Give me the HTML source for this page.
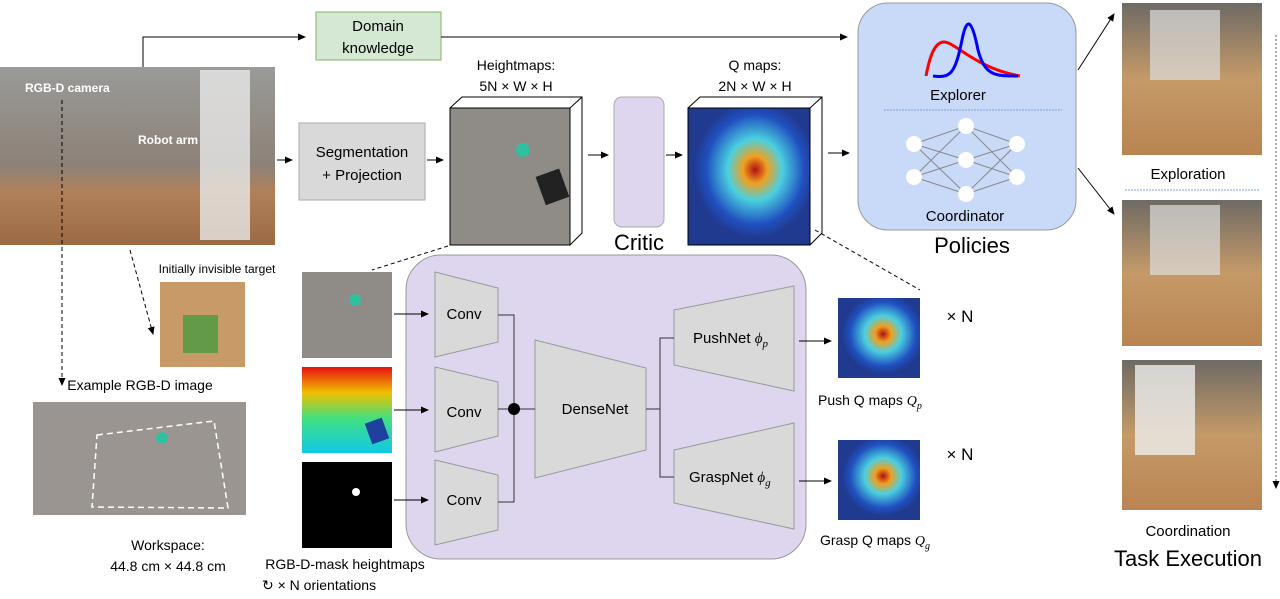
<!DOCTYPE html>
<html><head><meta charset="utf-8"><style>
body{margin:0;background:#fff;width:1280px;height:594px;overflow:hidden}
svg{font-family:"Liberation Sans",sans-serif}
</style></head><body>
<svg width="1280" height="594" viewBox="0 0 1280 594">
<defs>
<marker id="a" markerWidth="8" markerHeight="8" refX="7" refY="4" orient="auto" markerUnits="userSpaceOnUse"><path d="M0,0.5 L8,4 L0,7.5z" fill="#000"/></marker>
<radialGradient id="q" cx="0.55" cy="0.45" r="0.5"><stop offset="0" stop-color="#b01010"/><stop offset="0.2" stop-color="#f0a020"/><stop offset="0.45" stop-color="#4ad0e0"/><stop offset="0.8" stop-color="#2050c0"/><stop offset="1" stop-color="#203a90"/></radialGradient>
<linearGradient id="wood" x1="0" y1="0" x2="0" y2="1"><stop offset="0" stop-color="#9a9a98"/><stop offset="0.55" stop-color="#8c8278"/><stop offset="0.7" stop-color="#b0815a"/><stop offset="1" stop-color="#9b6a45"/></linearGradient>
<linearGradient id="rob" x1="0" y1="0" x2="0" y2="1"><stop offset="0" stop-color="#6e6a64"/><stop offset="0.5" stop-color="#c59a68"/><stop offset="1" stop-color="#b98452"/></linearGradient>
<linearGradient id="dep" x1="0" y1="0" x2="0" y2="1"><stop offset="0" stop-color="#e81010"/><stop offset="0.3" stop-color="#f0c000"/><stop offset="0.6" stop-color="#40e080"/><stop offset="1" stop-color="#10c8e8"/></linearGradient>
</defs>

<rect x="0" y="67" width="275" height="178" fill="url(#wood)"/>
<rect x="200" y="70" width="50" height="170" fill="#e8e8e8" opacity="0.8"/>
<text x="25" y="92" font-size="12" font-weight="bold" fill="#fff">RGB-D camera</text>
<text x="138" y="144" font-size="12" font-weight="bold" fill="#fff">Robot arm</text>

<path d="M143,67 V37 H305" fill="none" stroke="#000" marker-end="url(#a)"/>
<rect x="316" y="12" width="125" height="48" fill="#d5e8d4" stroke="#82b366"/>
<text x="378" y="31" font-size="15" text-anchor="middle">Domain</text>
<text x="378" y="53" font-size="15" text-anchor="middle">knowledge</text>
<path d="M441,37 H847" fill="none" stroke="#000" marker-end="url(#a)"/>

<path d="M277,160 H292" stroke="#000" marker-end="url(#a)"/>
<rect x="299" y="123" width="126" height="77" fill="#d9d9d9" stroke="#aaa"/>
<text x="362" y="157" font-size="15" text-anchor="middle">Segmentation</text>
<text x="362" y="180" font-size="15" text-anchor="middle">+ Projection</text>
<path d="M427,160 H443" stroke="#000" marker-end="url(#a)"/>

<text x="516" y="70" font-size="14" text-anchor="middle">Heightmaps:</text>
<text x="516" y="91" font-size="14" text-anchor="middle">5N × W × H</text>
<path d="M450,108 L462,97 H582 V233 L570,245 Z" fill="#fff" stroke="#000"/>
<path d="M570,108 L582,97 M570,108 V245" stroke="#000"/>
<rect x="450" y="108" width="120" height="137" fill="#8f8b86" stroke="#000"/>
<circle cx="523" cy="150" r="7" fill="#30c0a0"/>
<rect x="540" y="172" width="25" height="30" fill="#222" transform="rotate(-20 552 187)"/>
<path d="M588,155 H608" stroke="#000" marker-end="url(#a)"/>

<rect x="614" y="97" width="50" height="130" rx="8" fill="#ddd6ee" stroke="#aaa"/>
<text x="639" y="250" font-size="22" text-anchor="middle">Critic</text>
<path d="M666,155 H682" stroke="#000" marker-end="url(#a)"/>

<text x="755" y="70" font-size="14" text-anchor="middle">Q maps:</text>
<text x="755" y="91" font-size="14" text-anchor="middle">2N × W × H</text>
<path d="M688,108 L700,97 H822 V233 L810,245 Z" fill="#fff" stroke="#000"/>
<path d="M810,108 L822,97" stroke="#000"/>
<rect x="688" y="108" width="122" height="137" fill="url(#q)" stroke="#000"/>
<path d="M828,153 H849" stroke="#000" marker-end="url(#a)"/>

<rect x="858" y="3" width="218" height="227" rx="30" fill="#c9daf8" stroke="#999"/>
<path d="M926,76 C930,55 935,42 944,42 C955,42 975,68 1020,76" fill="none" stroke="red" stroke-width="3"/>
<path d="M933,76 C950,78 955,75 962,40 C967,15 972,20 978,50 C985,76 995,76 1018,76" fill="none" stroke="blue" stroke-width="3"/>
<text x="958" y="100" font-size="15" text-anchor="middle">Explorer</text>
<line x1="884" y1="110" x2="1062" y2="110" stroke="#7aa0d8" stroke-dasharray="2,1"/>
<g stroke="#888" stroke-width="1">
<path d="M914,144 L966,126 M914,144 L966,160 M914,144 L966,194 M914,177 L966,126 M914,177 L966,160 M914,177 L966,194 M966,126 L1017,144 M966,126 L1017,177 M966,160 L1017,144 M966,160 L1017,177 M966,194 L1017,144 M966,194 L1017,177"/>
</g>
<g fill="#fff"><circle cx="914" cy="144" r="8"/><circle cx="914" cy="177" r="8"/><circle cx="966" cy="126" r="8"/><circle cx="966" cy="160" r="8"/><circle cx="966" cy="194" r="8"/><circle cx="1017" cy="144" r="8"/><circle cx="1017" cy="177" r="8"/></g>
<text x="965" y="221" font-size="15" text-anchor="middle">Coordinator</text>
<text x="972" y="253" font-size="22" text-anchor="middle">Policies</text>

<path d="M1078,70 L1114,14" stroke="#000" marker-end="url(#a)"/>
<path d="M1078,168 L1114,214" stroke="#000" marker-end="url(#a)"/>
<rect x="1122" y="3" width="140" height="152" fill="url(#rob)"/>
<rect x="1150" y="10" width="70" height="70" fill="#ddd" opacity="0.7"/>
<text x="1188" y="179" font-size="15" text-anchor="middle">Exploration</text>
<line x1="1125" y1="190" x2="1260" y2="190" stroke="#7aa0d8" stroke-dasharray="2,1"/>
<rect x="1122" y="200" width="140" height="146" fill="url(#rob)"/>
<rect x="1150" y="205" width="70" height="70" fill="#ddd" opacity="0.7"/>
<rect x="1122" y="360" width="140" height="150" fill="url(#rob)"/>
<rect x="1135" y="365" width="60" height="90" fill="#eee" opacity="0.8"/>
<line x1="1276" y1="35" x2="1276" y2="488" stroke="#555" stroke-dasharray="2,2" marker-end="url(#a)"/>
<text x="1188" y="536" font-size="15" text-anchor="middle">Coordination</text>
<text x="1188" y="566" font-size="22" text-anchor="middle">Task Execution</text>

<text x="217" y="273" font-size="12" text-anchor="middle">Initially invisible target</text>
<rect x="160" y="282" width="85" height="85" fill="#c89a68"/>
<rect x="183" y="315" width="35" height="38" fill="#4a9a40" opacity="0.8"/>
<path d="M130,250 L153,334" stroke="#000" stroke-dasharray="4,3" marker-end="url(#a)"/>
<path d="M62,100 V385" stroke="#000" stroke-dasharray="4,3" marker-end="url(#a)"/>
<text x="140" y="390" font-size="14" text-anchor="middle">Example RGB-D image</text>
<rect x="33" y="402" width="213" height="113" fill="#9a9590"/>
<path d="M97,435 L214,421 L228,508 L92,507 Z" fill="none" stroke="#fff" stroke-width="1.5" stroke-dasharray="6,4"/>
<circle cx="162" cy="438" r="6" fill="#30c0a0"/>
<text x="168" y="550" font-size="14" text-anchor="middle">Workspace:</text>
<text x="168" y="571" font-size="14" text-anchor="middle">44.8 cm × 44.8 cm</text>

<path d="M448,246 L372,270" stroke="#000" stroke-dasharray="4,3"/>
<path d="M815,230 L920,290" stroke="#000" stroke-dasharray="4,3"/>

<rect x="302" y="272" width="90" height="86" fill="#8f8b86"/>
<circle cx="355" cy="300" r="6" fill="#30c0a0"/>
<rect x="302" y="367" width="90" height="86" fill="url(#dep)"/>
<rect x="368" y="420" width="18" height="22" fill="#2040a0" transform="rotate(-20 377 431)"/>
<rect x="302" y="462" width="90" height="86" fill="#000"/>
<circle cx="356" cy="492" r="4" fill="#fff"/>
<text x="345" y="569" font-size="14" text-anchor="middle">RGB-D-mask heightmaps</text>
<text x="262" y="590" font-size="14">↻ × N orientations</text>

<rect x="406" y="255" width="400" height="304" rx="35" fill="#ddd6ee" stroke="#999"/>
<path d="M394,314 H428" stroke="#000" marker-end="url(#a)"/>
<path d="M394,410 H428" stroke="#000" marker-end="url(#a)"/>
<path d="M394,500 H428" stroke="#000" marker-end="url(#a)"/>
<g fill="#d9d9d9" stroke="#999">
<path d="M435,272 L498,288 V342 L435,357 Z"/>
<path d="M435,367 L498,382 V436 L435,452 Z"/>
<path d="M435,460 L498,475 V530 L435,545 Z"/>
<path d="M535,340 L646,368 V450 L535,478 Z"/>
<path d="M674,310 L794,286 V391 L674,365 Z"/>
<path d="M674,450 L794,423 V529 L674,503 Z"/>
</g>
<g font-size="15" text-anchor="middle"><text x="464" y="319">Conv</text><text x="464" y="417">Conv</text><text x="464" y="505">Conv</text>
<text x="595" y="414">DenseNet</text></g>
<text x="693" y="343" font-size="15">PushNet <tspan font-family="Liberation Serif" font-style="italic">ϕ<tspan font-size="11" dy="4">p</tspan></tspan></text>
<text x="689" y="482" font-size="15">GraspNet <tspan font-family="Liberation Serif" font-style="italic">ϕ<tspan font-size="11" dy="4">g</tspan></tspan></text>
<path d="M498,315 H514 V502 H498 M498,409 H535 M646,409 H660 V338 H674 M660,409 V477 H674" fill="none" stroke="#333"/>
<circle cx="514" cy="409" r="6" fill="#000"/>
<path d="M799,341 H831" stroke="#000" marker-end="url(#a)"/>
<path d="M799,481 H831" stroke="#000" marker-end="url(#a)"/>

<rect x="838" y="298" width="82" height="80" fill="url(#q)"/>
<rect x="838" y="440" width="82" height="80" fill="url(#q)"/>
<text x="960" y="322" font-size="17" text-anchor="middle">× N</text>
<text x="960" y="460" font-size="17" text-anchor="middle">× N</text>
<text x="818" y="405" font-size="14">Push Q maps <tspan font-family="Liberation Serif" font-style="italic">Q<tspan font-size="10" dy="4">p</tspan></tspan></text>
<text x="820" y="545" font-size="14">Grasp Q maps <tspan font-family="Liberation Serif" font-style="italic">Q<tspan font-size="10" dy="4">g</tspan></tspan></text>
</svg>
</body></html>
